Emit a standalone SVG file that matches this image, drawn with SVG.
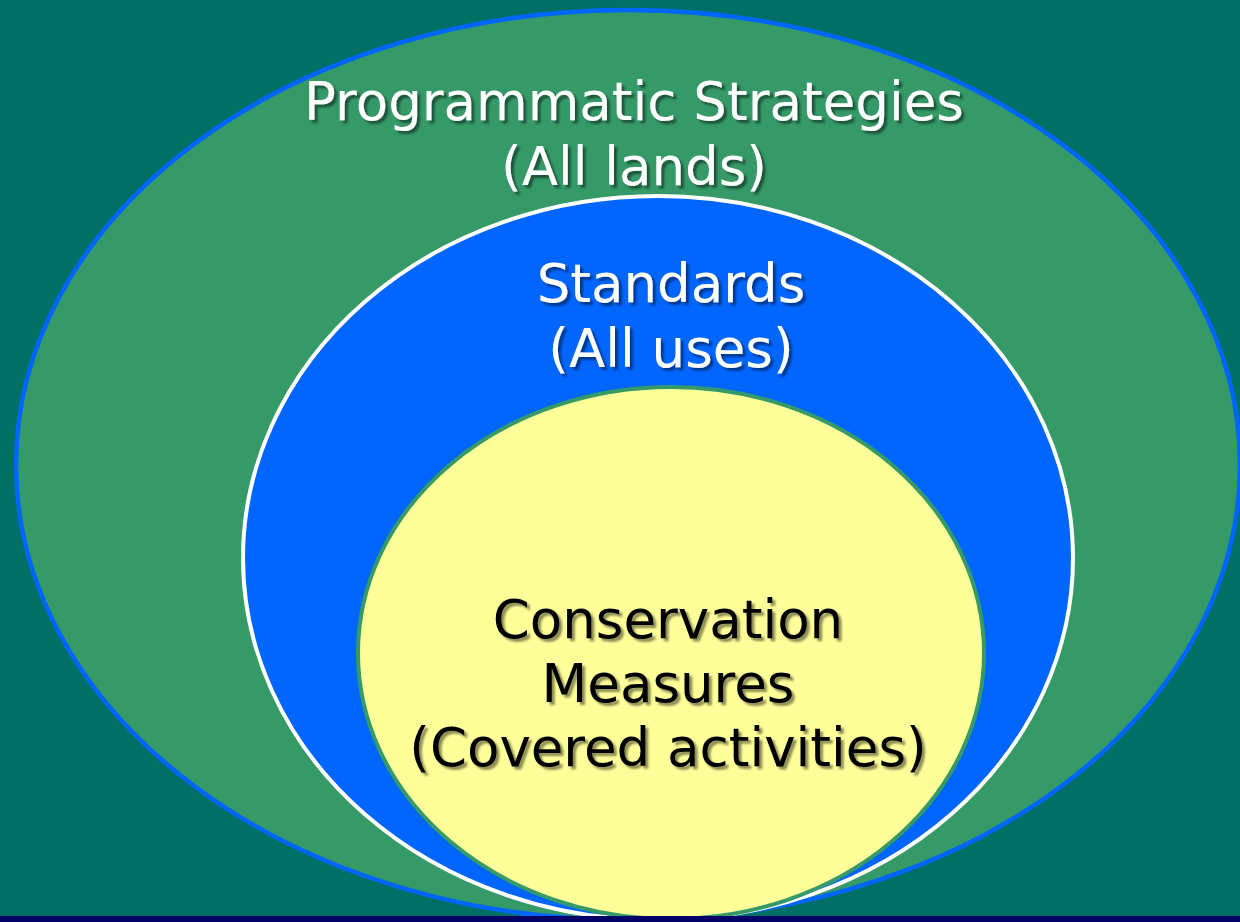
<svg xmlns="http://www.w3.org/2000/svg" width="1240" height="922" viewBox="0 0 1240 922">
<style>
.t{font-family:"DejaVu Sans","Verdana",sans-serif;font-size:53px;text-anchor:middle;filter:url(#sh)}
.w{fill:#ffffff}
.k{fill:#000000}
</style>
<defs>
<clipPath id="c"><rect x="0" y="0" width="1240" height="916"/></clipPath>
<filter id="sh" x="-10%" y="-30%" width="120%" height="160%">
<feDropShadow dx="3" dy="3" stdDeviation="1" flood-color="#000000" flood-opacity="0.45"/>
</filter>
</defs>
<rect x="0" y="0" width="1240" height="922" fill="#006F66"/>
<g clip-path="url(#c)">
<g id="outer">
<ellipse cx="628" cy="465" rx="612" ry="455" fill="#359968" stroke="#0066FF" stroke-width="4.5"/>
</g>
<g id="middle">
<ellipse cx="658" cy="558" rx="415" ry="362" fill="#0066FF" stroke="#FFFFFF" stroke-width="4"/>
</g>
<g id="inner">
<ellipse cx="671" cy="653" rx="313" ry="266" fill="#FFFF99" stroke="#359968" stroke-width="4"/>
</g>
</g>
<rect x="0" y="916" width="1240" height="6" fill="#000066"/>
<g id="connectors"/>
<g id="label-outer">
<text class="t w" x="634" y="120">Programmatic Strategies</text>
<text class="t w" x="634" y="185">(All lands)</text>
</g>
<g id="label-middle">
<text class="t w" x="671" y="302">Standards</text>
<text class="t w" x="671" y="367">(All uses)</text>
</g>
<g id="label-inner">
<text class="t k" x="668" y="638">Conservation</text>
<text class="t k" x="668" y="702">Measures</text>
<text class="t k" x="668" y="766">(Covered activities)</text>
</g>
</svg>
